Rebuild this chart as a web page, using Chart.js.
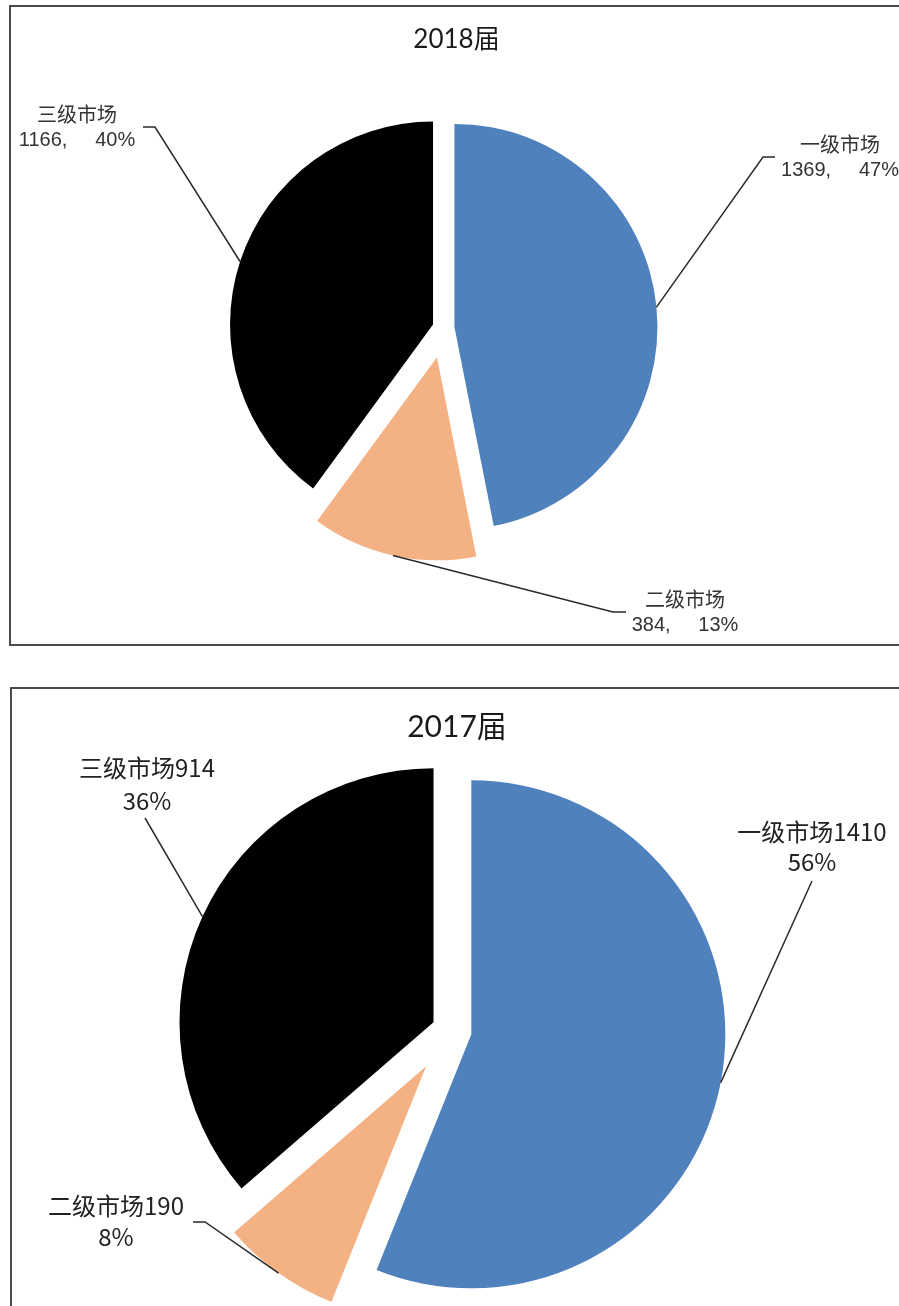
<!DOCTYPE html>
<html><head><meta charset="utf-8">
<script src="https://cdn.jsdelivr.net/npm/chart.js@4.4.1/dist/chart.umd.min.js"></script>
<style>
html,body{margin:0;padding:0;background:#fff;width:899px;height:1306px;overflow:hidden;position:relative;}
.box{position:absolute;border:2px solid #4a4a4a;box-sizing:border-box;}
#box1{left:9px;top:5px;width:900px;height:641px;}
#box2{left:10px;top:687px;width:900px;height:660px;}
canvas{position:absolute;}
</style></head><body>
<div class="box" id="box1"></div><div class="box" id="box2"></div>
<canvas id="c1"></canvas>
<canvas id="c2"></canvas>
<script>
// ---- data ----
const categories = ['一级市场', '二级市场', '三级市场'];
const values2018 = [1369, 384, 1166];
const values2017 = [1410, 190, 914];
const titles = ['2018届', '2017届'];
const colors = ['#4F81BD', '#F4B183', '#000000'];

// ---- layout / style (page coordinates) ----
const layouts = [
  {
    id: 'c1', left: 12, top: 7, w: 887, h: 636,
    center: [443.5, 328], radius: 203, explode: [11, 30, 11],
    title: {x: 456.5, y: 40, size: 26},
    font: '20px "Liberation Sans", "Noto Sans CJK SC", sans-serif', color: '#333',
    line1: (c, v, p) => c,
    line2: (c, v, p) => v + ',     ' + p + '%',
    labels: [
      {x: 840, y1: 146, y2: 170, path: [[775, 157], [763, 157]]},
      {x: 685, y1: 601, y2: 625, path: [[626, 612], [613, 612]]},
      {x: 77, y1: 116, y2: 140, path: [[143, 127], [155, 127]]}
    ]
  },
  {
    id: 'c2', left: 13, top: 690, w: 886, h: 616,
    center: [451.7, 1030.5], radius: 254, explode: [20, 44, 20],
    title: {x: 457, y: 727, size: 30},
    font: '24px "Noto Sans CJK SC", sans-serif', color: '#222',
    line1: (c, v, p) => c + v,
    line2: (c, v, p) => p + '%',
    labels: [
      {x: 812, y1: 832, y2: 862, path: [[812, 881]]},
      {x: 116, y1: 1206, y2: 1237, path: [[193, 1222], [205, 1222]]},
      {x: 147, y1: 768, y2: 801, path: [[145, 818]]}
    ]
  }
];

function build(L, values, title) {
  const cv = document.getElementById(L.id);
  cv.width = L.w; cv.height = L.h;
  cv.style.left = L.left + 'px'; cv.style.top = L.top + 'px';
  cv.style.width = L.w + 'px'; cv.style.height = L.h + 'px';
  const cx = L.center[0] - L.left, cy = L.center[1] - L.top;
  let pl = 0, pr = 0, pt = 0, pb = 0;
  if (2 * cx > L.w) pl = 2 * cx - L.w; else pr = L.w - 2 * cx;
  if (2 * cy > L.h) pt = 2 * cy - L.h; else pb = L.h - 2 * cy;
  const total = values.reduce((a, b) => a + b, 0);
  const pcts = values.map(v => Math.round(v / total * 100));

  const explodePlugin = {
    id: 'explode_' + L.id,
    afterDatasetUpdate(chart, args) {
      args.meta.data.forEach((el, i) => {
        const mid = (el.startAngle + el.endAngle) / 2;
        el.x += Math.cos(mid) * L.explode[i];
        el.y += Math.sin(mid) * L.explode[i];
      });
    }
  };
  const labelPlugin = {
    id: 'labels_' + L.id,
    afterDatasetsDraw(chart) {
      const ctx = chart.ctx;
      const ox = L.left, oy = L.top;
      ctx.save();
      // title
      ctx.fillStyle = '#1a1a1a';
      ctx.font = L.title.size + 'px Lato, "Noto Sans CJK SC", sans-serif';
      ctx.textAlign = 'center'; ctx.textBaseline = 'middle';
      ctx.fillText(title, L.title.x - ox, L.title.y - oy);
      // labels + leaders
      const meta = chart.getDatasetMeta(0);
      meta.data.forEach((el, i) => {
        const lab = L.labels[i];
        const mid = (el.startAngle + el.endAngle) / 2;
        const ex = el.x + Math.cos(mid) * el.outerRadius;
        const ey = el.y + Math.sin(mid) * el.outerRadius;
        ctx.strokeStyle = '#2a2a2a'; ctx.lineWidth = 1.5;
        ctx.beginPath();
        lab.path.forEach((p, k) => {
          if (k === 0) ctx.moveTo(p[0] - ox, p[1] - oy); else ctx.lineTo(p[0] - ox, p[1] - oy);
        });
        ctx.lineTo(ex, ey);
        ctx.stroke();
        ctx.fillStyle = L.color; ctx.font = L.font;
        ctx.textAlign = 'center'; ctx.textBaseline = 'middle';
        ctx.fillText(L.line1(categories[i], values[i], pcts[i]), lab.x - ox, lab.y1 - oy);
        ctx.fillText(L.line2(categories[i], values[i], pcts[i]), lab.x - ox, lab.y2 - oy);
      });
      ctx.restore();
    }
  };

  return new Chart(cv, {
    type: 'pie',
    data: {
      labels: categories,
      datasets: [{data: values, backgroundColor: colors, borderWidth: 0, clip: false}]
    },
    options: {
      responsive: false, animation: false, events: [],
      radius: L.radius,
      layout: {padding: {left: pl, right: pr, top: pt, bottom: pb}},
      plugins: {legend: {display: false}, title: {display: false}, tooltip: {enabled: false}}
    },
    plugins: [explodePlugin, labelPlugin]
  });
}

build(layouts[0], values2018, titles[0]);
build(layouts[1], values2017, titles[1]);
</script>
</body></html>
